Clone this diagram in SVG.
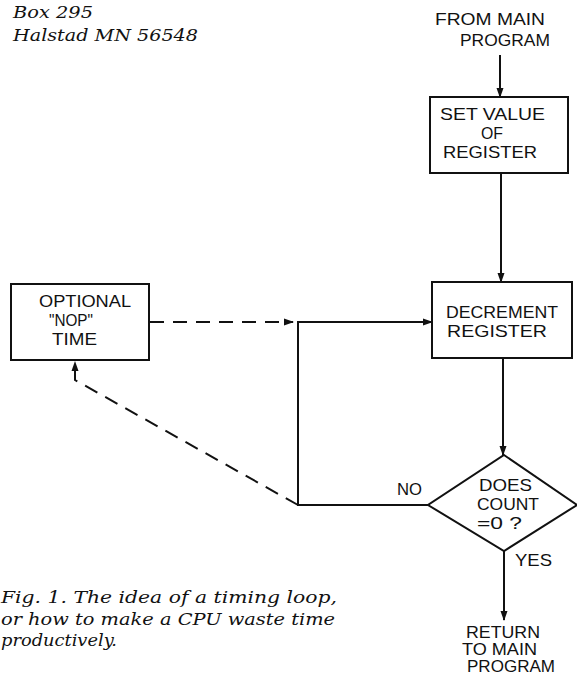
<svg xmlns="http://www.w3.org/2000/svg" width="577" height="677" viewBox="0 0 577 677">
<defs>
<style>
.lbl{font-family:"Liberation Sans",Arial,sans-serif;font-size:17px;fill:#111;}
.cap{font-family:"DejaVu Serif","Liberation Serif",serif;font-style:italic;font-size:16px;fill:#111;}
.box{fill:#fff;stroke:#111;stroke-width:2;}
.ln{fill:none;stroke:#111;stroke-width:2;}
.dash{fill:none;stroke:#111;stroke-width:2;stroke-dasharray:14 9;}
</style>
<marker id="ah" markerWidth="10" markerHeight="8" refX="9" refY="4" orient="auto" markerUnits="userSpaceOnUse">
<path d="M0,0.5 L10,4 L0,7.5 z" fill="#111"/>
</marker>
</defs>
<rect width="577" height="677" fill="#fff"/>

<g id="address">
<text class="cap" x="13" y="18" textLength="80" lengthAdjust="spacingAndGlyphs">Box 295</text>
<text class="cap" x="13" y="41" textLength="185" lengthAdjust="spacingAndGlyphs">Halstad  MN  56548</text>
</g>

<g id="caption">
<text class="cap" x="1" y="603" textLength="336" lengthAdjust="spacingAndGlyphs">Fig. 1. The idea of a timing loop,</text>
<text class="cap" x="1" y="625" textLength="334" lengthAdjust="spacingAndGlyphs">or how to make a CPU waste time</text>
<text class="cap" x="1" y="646" textLength="116" lengthAdjust="spacingAndGlyphs">productively.</text>
</g>

<g id="connectors">
<line class="ln" x1="500" y1="55" x2="500" y2="97" marker-end="url(#ah)"/>
<line class="ln" x1="501" y1="173" x2="501" y2="282" marker-end="url(#ah)"/>
<line class="ln" x1="503" y1="358" x2="503" y2="455" marker-end="url(#ah)"/>
<polyline class="ln" points="428,505 298,505 298,322 432,322" marker-end="url(#ah)"/>
<line class="ln" x1="504" y1="551" x2="504" y2="620" marker-end="url(#ah)"/>
<line class="dash" x1="150" y1="322" x2="293" y2="322" marker-end="url(#ah)"/>
<polyline class="dash" points="298,505 75,380 75,362" marker-end="url(#ah)"/>
</g>

<g id="from-main">
<text class="lbl" x="435" y="25" textLength="110" lengthAdjust="spacingAndGlyphs">FROM MAIN</text>
<text class="lbl" x="460" y="46" textLength="90" lengthAdjust="spacingAndGlyphs">PROGRAM</text>
</g>

<g id="set-value">
<rect class="box" x="430" y="97" width="138" height="76"/>
<text class="lbl" x="440" y="120" textLength="105" lengthAdjust="spacingAndGlyphs">SET VALUE</text>
<text class="lbl" x="481" y="139" textLength="22" lengthAdjust="spacingAndGlyphs">OF</text>
<text class="lbl" x="443" y="158" textLength="94" lengthAdjust="spacingAndGlyphs">REGISTER</text>
</g>

<g id="decrement">
<rect class="box" x="432" y="282" width="140" height="76"/>
<text class="lbl" x="446" y="318" textLength="112" lengthAdjust="spacingAndGlyphs">DECREMENT</text>
<text class="lbl" x="447" y="337" textLength="100" lengthAdjust="spacingAndGlyphs">REGISTER</text>
</g>

<g id="optional-nop">
<rect class="box" x="11" y="284" width="138" height="76"/>
<text class="lbl" x="39" y="307" textLength="92" lengthAdjust="spacingAndGlyphs">OPTIONAL</text>
<text class="lbl" x="49" y="326" textLength="44" lengthAdjust="spacingAndGlyphs">"NOP"</text>
<text class="lbl" x="52" y="345" textLength="45" lengthAdjust="spacingAndGlyphs">TIME</text>
</g>

<g id="decision">
<polygon class="box" points="504,455 577,505 504,551 428,505"/>
<text class="lbl" x="479" y="491" textLength="53" lengthAdjust="spacingAndGlyphs">DOES</text>
<text class="lbl" x="477" y="510" textLength="62" lengthAdjust="spacingAndGlyphs">COUNT</text>
<text class="lbl" x="477" y="529" textLength="45" lengthAdjust="spacingAndGlyphs">=0 ?</text>
<text class="lbl" x="397" y="495" textLength="25" lengthAdjust="spacingAndGlyphs">NO</text>
<text class="lbl" x="515" y="566" textLength="37" lengthAdjust="spacingAndGlyphs">YES</text>
</g>

<g id="return-main">
<text class="lbl" x="466" y="638" textLength="74" lengthAdjust="spacingAndGlyphs">RETURN</text>
<text class="lbl" x="462" y="655" textLength="75" lengthAdjust="spacingAndGlyphs">TO MAIN</text>
<text class="lbl" x="467" y="672" textLength="88" lengthAdjust="spacingAndGlyphs">PROGRAM</text>
</g>
</svg>
